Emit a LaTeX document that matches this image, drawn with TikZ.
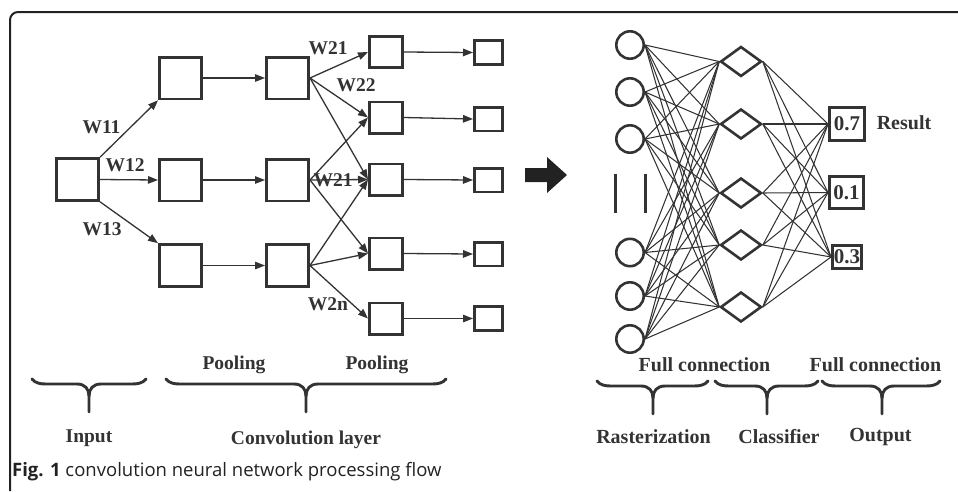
\documentclass[tikz,border=0pt]{standalone}
\usepackage{fontspec}
\setmainfont{Liberation Serif}
\newfontfamily\capfont{Open Sans}
\usetikzlibrary{arrows.meta,shapes.geometric}

\definecolor{ink}{HTML}{333333}
\definecolor{frameink}{HTML}{222222}

% downward curly brace: left x, right x, tip x, top y
\newcommand\curlybrace[4]{%
  \draw[brc] (#1,#4) .. controls ({#1+3},{#4+4}) and ({#1+8},{#4+5}) .. ({#1+14},{#4+5})
    -- ({#3-12},{#4+5}) .. controls ({#3-4},{#4+5}) and (#3,{#4+10}) .. (#3,{#4+17})
    -- (#3,{#4+33});
  \draw[brc] (#2,#4) .. controls ({#2-3},{#4+4}) and ({#2-8},{#4+5}) .. ({#2-14},{#4+5})
    -- ({#3+12},{#4+5}) .. controls ({#3+4},{#4+5}) and (#3,{#4+10}) .. (#3,{#4+17});
}

\begin{document}
\begin{tikzpicture}[x=1pt,y=-1pt,
  box/.style={draw=ink, line width=2.8pt, inner sep=0pt},
  bigbox/.style={box, minimum width=42.2pt, minimum height=41.8pt},
  midbox/.style={box, minimum width=33.2pt, minimum height=31.2pt},
  smallbox/.style={box, minimum width=28.2pt, minimum height=23.8pt},
  arr/.style={draw=ink, line width=1.3pt, -{Triangle[length=10pt,width=7.5pt]}},
  wire/.style={draw=ink, line width=1.05pt},
  lbl/.style={font=\fontsize{20}{22}\selectfont\bfseries, text=ink, inner sep=0pt},
  wlbl/.style={font=\fontsize{19.5}{22}\selectfont\bfseries, text=ink, inner sep=0pt},
  leftlbl/.style={font=\fontsize{19.5}{22}\selectfont\bfseries, text=ink, inner sep=0pt},
  num/.style={font=\fontsize{21}{22}\selectfont\bfseries, text=ink},
  neuron/.style={circle, draw=ink, line width=2.6pt, minimum size=27.4pt, inner sep=0pt},
  gate/.style={diamond, draw=ink, line width=2.6pt, minimum width=41pt, minimum height=30pt, inner sep=0pt},
  outbox/.style={box, inner sep=0pt},
  brc/.style={draw=ink, line width=2.9pt, line cap=round},
]
\useasboundingbox (0,0) rectangle (958,491);

% frame
\draw[frameink, line width=2pt, rounded corners=8pt] (10,491) -- (10,12) -- (958,12);

% ---------- convolution part ----------
\node[bigbox] (in) at (77.5,179.5) {};
\node[bigbox] (a1) at (180.5,78) {};
\node[bigbox] (a2) at (180.5,180) {};
\node[bigbox] (a3) at (180.5,265.5) {};
\node[bigbox] (b1) at (287.5,78) {};
\node[bigbox] (b2) at (287.5,180) {};
\node[bigbox] (b3) at (287.5,265.5) {};

\foreach \i/\y in {1/52,2/117.5,3/179.5,4/253.5,5/318.5}
  \node[midbox] (c\i) at (386,\y) {};
\foreach \i/\y in {1/52.5,2/119,3/180,4/254,5/318.5}
  \node[smallbox] (d\i) at (488.5,\y) {};

\draw[arr] (in.north east) -- (a1.south west);
\draw[arr] (in.east) -- (a2.west);
\draw[arr] (in.south east) -- (a3.north west);
\foreach \i in {1,2,3} \draw[arr] (a\i.east) -- (b\i.west);

\draw[arr] (b1.east) -- (c1.west);
\draw[arr] (b1.east) -- (c2.west);
\draw[arr] (b1.east) -- (c3.west);
\draw[arr] (b2.east) -- (c2.west);
\draw[arr] (b2.east) -- (c3.west);
\draw[arr] (b2.east) -- (c4.west);
\draw[arr] (b3.east) -- (c3.west);
\draw[arr] (b3.east) -- (c4.west);
\draw[arr] (b3.east) -- (c5.west);
\foreach \i in {1,...,5} \draw[arr] (c\i.east) -- (d\i.west);

\node[wlbl] (w11) at (101.5,127) {W11};
\node[wlbl] (w12) at (125,165) {W12};
\node[wlbl] (w13) at (102,229) {W13};
\node[wlbl] (w21a) at (328,48) {W21};
\node[wlbl] (w22) at (356,85) {W22};
\node[wlbl] (w21b) at (333,180) {W21};
\node[wlbl] (w2n) at (328,304) {W2n};

% transition arrow
\fill[frameink] (525,168) -- (547,168) -- (547,157) -- (567,175) -- (547,193) -- (547,182) -- (525,182) -- cycle;

% ---------- fully connected part ----------
\foreach \i/\y in {1/45,2/92,3/139,4/252.5,5/296,6/339}
  \node[neuron] (r\i) at (630,\y) {};
\draw[ink, line width=3pt] (615,174) -- (615,213);
\draw[ink, line width=3pt] (645,174) -- (645,213);

\foreach \j/\y in {1/61.5,2/124,3/193,4/245,5/307}
  \node[gate] (g\j) at (741,\y) {};

\node[outbox, num, minimum width=35.2pt, minimum height=33.2pt] (o1) at (847,124) {0.7};
\node[outbox, num, minimum width=34.2pt, minimum height=32.2pt] (o2) at (846.5,192.5) {0.1};
\node[outbox, num, minimum width=29.2pt, minimum height=23.2pt] (o3) at (847,257) {0.3};

\foreach \i in {1,...,6}
  \foreach \j in {1,...,5}
    \draw[wire] (r\i.east) -- (g\j.west);
\foreach \j in {1,...,5}
  \foreach \k in {1,2,3}
    \draw[wire] (g\j.east) -- (o\k.west);

\node[lbl] (res) at (904,123) {Result};

% ---------- braces and captions ----------
\node[leftlbl] (pool1) at (234,365) {Pooling};
\node[leftlbl] (pool2) at (377,365) {Pooling};
\node[lbl] (fc1) at (704.5,365) {Full connection};
\node[lbl] (fc2) at (875.5,365) {Full connection};

\curlybrace{32}{146}{89}{379}
\curlybrace{166}{446}{306}{379}
\curlybrace{597}{708}{653}{381}
\curlybrace{715}{818}{767}{381}
\curlybrace{822}{940}{882}{381}

\node[leftlbl] (inlbl) at (89,438) {Input};
\node[leftlbl] (convlbl) at (306,440) {Convolution layer};
\node[lbl] (rastlbl) at (653.5,437) {Rasterization};
\node[lbl] (clslbl) at (779,437) {Classifier};
\node[lbl] (outlbl) at (880.5,437) {Output};

\node[anchor=base west, inner sep=0pt, text=frameink, font=\capfont\fontsize{18.5}{20}\selectfont] (cap) at (12,476)
  {\textbf{Fig. 1} convolution neural network processing flow};
\end{tikzpicture}
\end{document}
